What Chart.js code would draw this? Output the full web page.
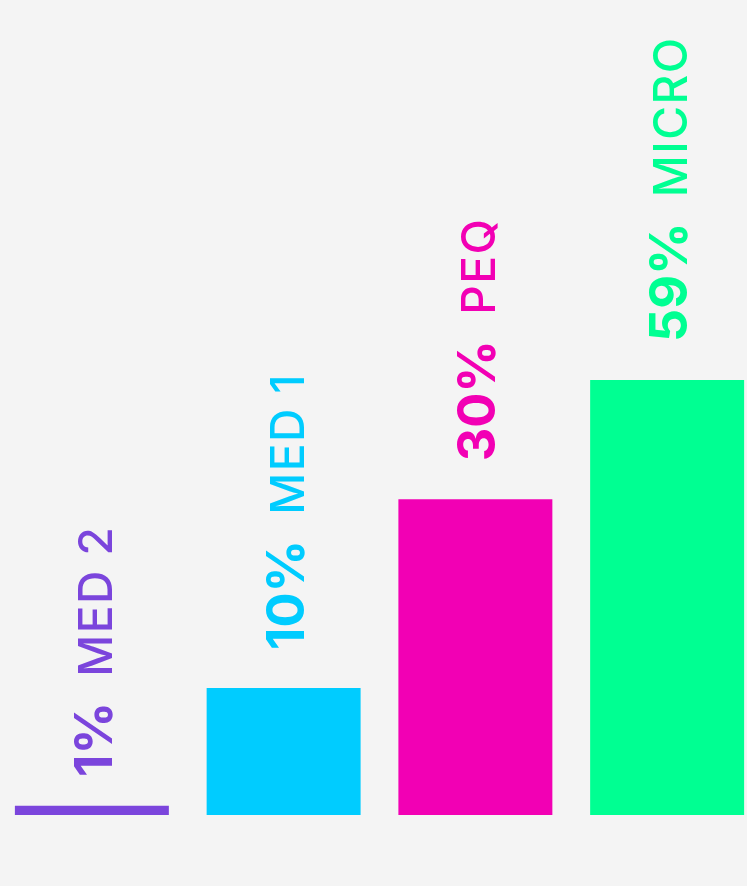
<!DOCTYPE html>
<html>
<head>
<meta charset="utf-8">
<script src="https://cdn.jsdelivr.net/npm/chart.js@4"></script>
<style>
  body { margin: 0; background: #f4f4f4; overflow: hidden; }
  #wrap { position: absolute; left: -4px; top: 0; width: 767px; height: 886px; }
</style>
</head>
<body>
<div id="wrap"><canvas id="myChart"></canvas></div>
<script>
// categories + values
const categories = ["MED 2", "MED 1", "PEQ", "MICRO"];
const percents = [1, 10, 30, 59];           // texte des etiquettes
const barHeights = [2.1, 29.2, 72.6, 100];  // hauteur relative des barres (MICRO = 100)
const barColors = ["#7b45dc", "#00ccff", "#f200b4", "#00ff92"];

// plugin qui ecrit les etiquettes verticales au dessus des barres
const verticalLabels = {
    id: 'verticalLabels',
    afterDatasetsDraw(chart) {
        const ctx = chart.ctx;
        const meta = chart.getDatasetMeta(0);
        const base = chart.scales.y.getPixelForValue(0);
        meta.data.forEach(function(bar, i) {
            var top = bar.y;
            var bottom = (base - top < 40) ? base - 38 : top - 38;
            ctx.save();
            ctx.translate(bar.x + 20, bottom);
            ctx.rotate(-Math.PI / 2);
            ctx.fillStyle = barColors[i];
            ctx.textBaseline = 'alphabetic';
            ctx.textAlign = 'left';
            ctx.font = "bold 52px Inter, 'Open Sans', sans-serif";
            var pct = percents[i] + "%";
            ctx.fillText(pct, 0, 0);
            var w = ctx.measureText(pct).width;
            ctx.font = "500 46px Inter, 'Open Sans', sans-serif";
            ctx.letterSpacing = "1.5px";
            ctx.fillText(categories[i], w + 25, 0);
            ctx.restore();
        });
    }
};

const ctx = document.getElementById('myChart');
new Chart(ctx, {
    type: 'bar',
    data: {
        labels: categories,
        datasets: [{
            data: barHeights,
            backgroundColor: barColors,
            borderWidth: 0,
            barPercentage: 1,
            categoryPercentage: 0.803
        }]
    },
    options: {
        responsive: true,
        maintainAspectRatio: false,
        animation: false,
        layout: { padding: { left: 0, right: 0, top: 0, bottom: 71 } },
        plugins: { legend: { display: false }, tooltip: { enabled: false } },
        scales: {
            x: { display: false },
            y: { display: false, min: 0, max: 187.4 }
        }
    },
    plugins: [verticalLabels]
});
</script>
</body>
</html>
